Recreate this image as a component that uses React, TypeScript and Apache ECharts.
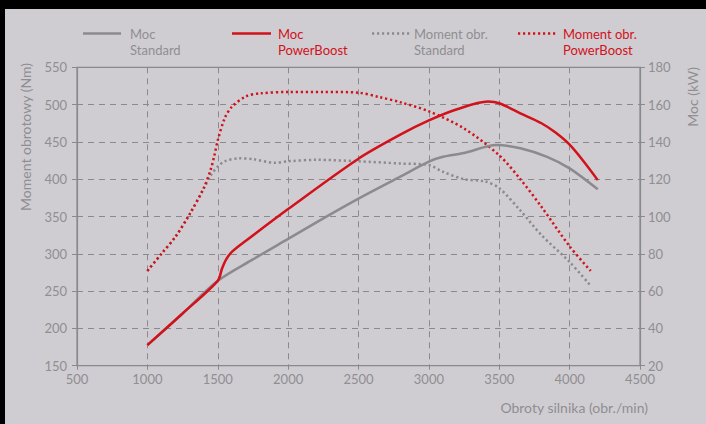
import React, { useEffect, useRef } from "react";
import * as echarts from "echarts";

const GRAY = "#8b8a8d";
const RED = "#d2111b";
const TEXT = "#8f8e92";
const AXIS = "#8a898c";
const BG = "#cfcdd1";
const FONT = "Lato, 'Noto Sans', sans-serif";

// Moc Standard (kW)
const mocStdRpm = [1000, 1250, 1500, 1750, 2000, 2250, 2500, 2800, 3000, 3100, 3250, 3480, 3650, 3840, 4000, 4200];
const mocStdKw = [31, 48, 65.5, 77, 88, 99, 109.6, 121.5, 129.4, 132, 134, 138.3, 136.6, 132, 125.8, 114.6];

// Moc PowerBoost (kW)
const mocPbRpm = [1000, 1250, 1500, 1530, 1560, 1600, 1700, 2000, 2500, 2800, 3000, 3200, 3420, 3500, 3650, 3800, 3900, 4000, 4100, 4200];
const mocPbKw = [31, 48, 65.5, 72, 77, 81, 87, 104, 131, 144, 151.5, 157.5, 161.6, 160.7, 155.3, 150, 145, 138.5, 129.5, 119.5];

// Moment obr. Standard (Nm)
const momStdRpm = [1000, 1100, 1200, 1300, 1400, 1450, 1500, 1550, 1650, 1750, 1900, 2000, 2200, 2500, 2800, 3000, 3100, 3250, 3400, 3500, 3650, 3800, 4000, 4150];
const momStdNm = [277, 300, 323, 353, 387, 405, 417, 424, 428, 427, 422, 424, 426, 424, 421, 419, 410, 400, 397, 388, 358, 325, 289, 257];

// Moment obr. PowerBoost (Nm)
const momPbRpm = [1000, 1100, 1200, 1300, 1400, 1450, 1475, 1500, 1550, 1600, 1700, 1800, 2000, 2250, 2500, 2650, 2800, 3000, 3250, 3500, 3650, 3800, 4000, 4150];
const momPbNm = [277, 300, 323, 353, 388, 413, 431, 452, 482, 497, 511, 515, 517, 517, 516, 510, 503, 491, 468, 432, 400, 363, 310, 277];

const legendItems = [
  { l1: "Moc", l2: "Standard", color: GRAY, dotted: false, x0: 83, x1: 121, tx: 130 },
  { l1: "Moc", l2: "PowerBoost", color: RED, dotted: false, x0: 232, x1: 271, tx: 278 },
  { l1: "Moment obr.", l2: "Standard", color: GRAY, dotted: true, x0: 372, x1: 410, tx: 414 },
  { l1: "Moment obr.", l2: "PowerBoost", color: RED, dotted: true, x0: 518, x1: 557, tx: 563 },
];

const zip = (xs: number[], ys: number[]) => xs.map((x, i) => [x, ys[i]]);

const DOT: number[] = [2.2, 2.8];

export default function App() {
  const ref = useRef<HTMLDivElement>(null);
  useEffect(() => {
    if (!ref.current) return;
    const chart = echarts.init(ref.current, undefined, { renderer: "svg" });
    const graphic: any[] = [
      { type: "rect", shape: { x: 0, y: 0, width: 706, height: 9 }, style: { fill: "#000" }, z: 100 },
      { type: "rect", shape: { x: 0, y: 0, width: 5, height: 424 }, style: { fill: "#000" }, z: 100 },
      {
        type: "text", x: 25, y: 63, rotation: Math.PI / 2,
        style: { text: "Moment obrotowy (Nm)", fill: TEXT, font: `14px ${FONT}`, align: "right", verticalAlign: "middle" },
      },
      {
        type: "text", x: 692, y: 67, rotation: Math.PI / 2,
        style: { text: "Moc (kW)", fill: TEXT, font: `14px ${FONT}`, align: "right", verticalAlign: "middle" },
      },
      {
        type: "text", x: 648, y: 407,
        style: { text: "Obroty silnika (obr./min)", fill: TEXT, font: `14px ${FONT}`, align: "right", verticalAlign: "middle" },
      },
    ];
    legendItems.forEach((it) => {
      graphic.push({
        type: "line",
        shape: { x1: it.x0, y1: 33.5, x2: it.x1, y2: 33.5 },
        style: { stroke: it.color, lineWidth: 2.5, lineDash: it.dotted ? DOT : null },
      });
      const tc = it.color === RED ? RED : TEXT;
      graphic.push({
        type: "text", x: it.tx, y: 34,
        style: { text: it.l1, fill: tc, font: `13px ${FONT}`, align: "left", verticalAlign: "middle" },
      });
      graphic.push({
        type: "text", x: it.tx, y: 50,
        style: { text: it.l2, fill: tc, font: `13px ${FONT}`, align: "left", verticalAlign: "middle" },
      });
    });

    const labelStyle = { color: TEXT, fontFamily: FONT, fontSize: 13, formatter: (v: number) => String(v) };
    const dashed = { color: AXIS, width: 1, type: [6, 5] as any };

    chart.setOption({
      animation: false,
      backgroundColor: BG,
      textStyle: { fontFamily: FONT },
      grid: {
        left: 77, right: 66, top: 67.3, bottom: 58.3,
        show: true, borderColor: AXIS, borderWidth: 1.2, backgroundColor: "transparent",
      },
      xAxis: {
        type: "value", min: 500, max: 4500, interval: 500,
        axisLine: { show: true, lineStyle: { color: AXIS, width: 1.2 } },
        axisTick: { show: true, length: 4, lineStyle: { color: AXIS } },
        axisLabel: { ...labelStyle, margin: 7 },
        splitLine: { show: true, lineStyle: dashed },
      },
      yAxis: [
        {
          type: "value", min: 150, max: 550, interval: 50, position: "left",
          axisLine: { show: true, lineStyle: { color: AXIS, width: 1.2 } },
          axisTick: { show: true, length: 5, lineStyle: { color: AXIS } },
          axisLabel: { ...labelStyle, margin: 10 },
          splitLine: { show: true, lineStyle: dashed },
        },
        {
          type: "value", min: 20, max: 180, interval: 20, position: "right",
          axisLine: { show: true, lineStyle: { color: AXIS, width: 1.2 } },
          axisTick: { show: true, length: 5, lineStyle: { color: AXIS } },
          axisLabel: { ...labelStyle, margin: 8 },
          splitLine: { show: false },
        },
      ],
      series: [
        {
          name: "Moment obr. Standard", type: "line", yAxisIndex: 0, data: zip(momStdRpm, momStdNm),
          smooth: 0.3, showSymbol: false, lineStyle: { color: GRAY, width: 2.5, type: DOT as any, cap: "butt" },
        },
        {
          name: "Moment obr. PowerBoost", type: "line", yAxisIndex: 0, data: zip(momPbRpm, momPbNm),
          smooth: 0.3, showSymbol: false, lineStyle: { color: RED, width: 2.5, type: DOT as any, cap: "butt" },
        },
        {
          name: "Moc Standard", type: "line", yAxisIndex: 1, data: zip(mocStdRpm, mocStdKw),
          smooth: 0.3, showSymbol: false, lineStyle: { color: GRAY, width: 2.5 },
        },
        {
          name: "Moc PowerBoost", type: "line", yAxisIndex: 1, data: zip(mocPbRpm, mocPbKw),
          smooth: 0.3, showSymbol: false, lineStyle: { color: RED, width: 2.5 },
        },
      ],
      graphic,
    });
    return () => chart.dispose();
  }, []);
  return (
    <div
      ref={ref}
      style={{ position: "fixed", left: 0, top: 0, width: 706, height: 424 }}
    />
  );
}
